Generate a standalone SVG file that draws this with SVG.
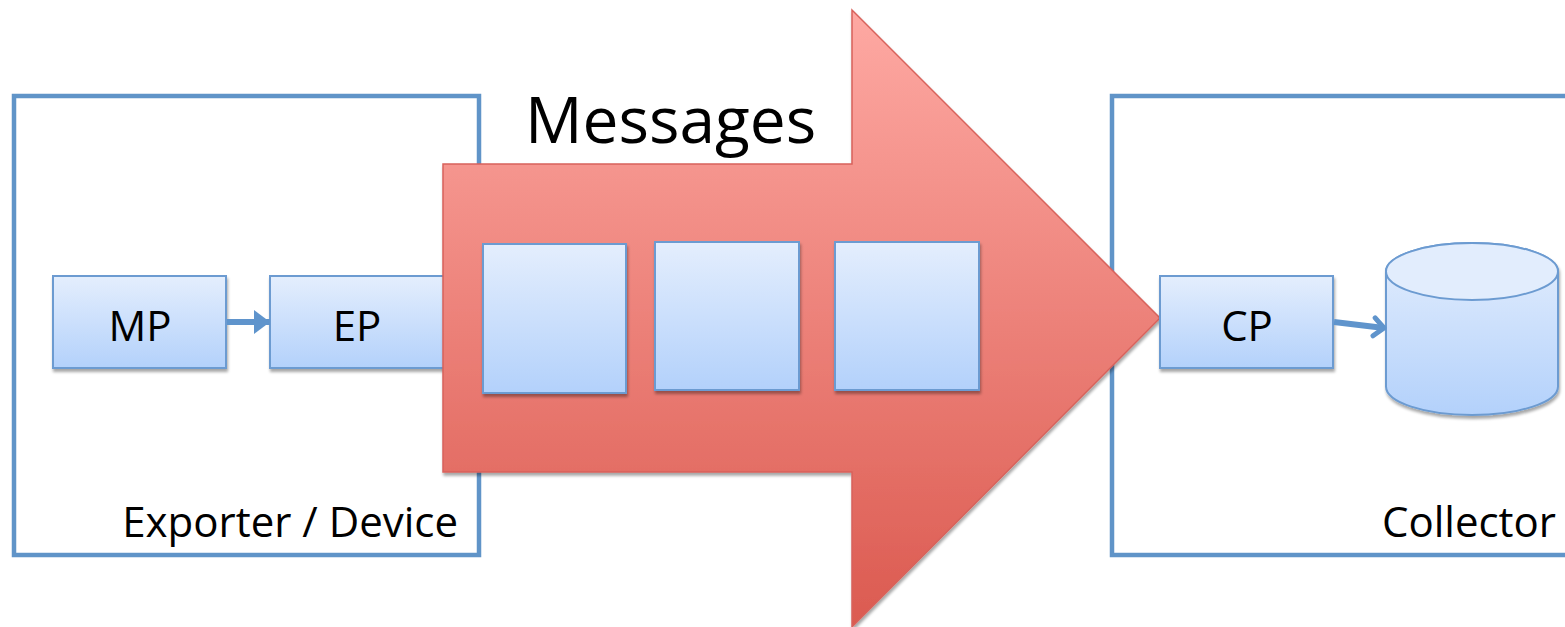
<svg xmlns="http://www.w3.org/2000/svg" width="1565" height="627" viewBox="0 0 1565 627">
<defs>
<linearGradient id="gBlue" x1="0" y1="0" x2="0" y2="1">
<stop offset="0" stop-color="#e4eefd"/>
<stop offset="1" stop-color="#b3d1fb"/>
</linearGradient>
<linearGradient id="gRed" x1="0" y1="10" x2="0" y2="627" gradientUnits="userSpaceOnUse">
<stop offset="0" stop-color="#fea9a3"/>
<stop offset="1" stop-color="#db5a50"/>
</linearGradient>
<filter id="sh" x="-10%" y="-10%" width="130%" height="130%">
<feGaussianBlur in="SourceAlpha" stdDeviation="1.5"/>
<feOffset dx="1" dy="2.5" result="b"/>
<feComponentTransfer><feFuncA type="linear" slope="0.35"/></feComponentTransfer>
<feMerge><feMergeNode/><feMergeNode in="SourceGraphic"/></feMerge>
</filter>
<marker id="tri" markerWidth="16" markerHeight="24" refX="16" refY="12" orient="auto" markerUnits="userSpaceOnUse">
<path d="M0,0 L16,12 L0,24 Z" fill="#5f94cc"/>
</marker>
<marker id="chev" markerWidth="16" markerHeight="24" refX="13" refY="12" orient="auto" markerUnits="userSpaceOnUse">
<path d="M3,3 L13,12 L3,21" fill="none" stroke="#5f94cc" stroke-width="5" stroke-linecap="round" stroke-linejoin="round"/>
</marker>
</defs>
<style>
.frame{fill:#fff;stroke:#6094c8;stroke-width:4.5}
.box{fill:url(#gBlue);stroke:#6c9bd1;stroke-width:2;filter:url(#sh)}
.lbl{font-family:"Open Sans","Liberation Sans",sans-serif;fill:#000}
.conn{stroke:#5f94cc;stroke-width:6;fill:none}
</style>
<rect width="1565" height="627" fill="#fff"/>
<g id="exporter">
<rect class="frame" x="14" y="96" width="465" height="459"/>
<text class="lbl" x="458" y="537" font-size="42" text-anchor="end">Exporter / Device</text>
</g>
<g id="collector">
<rect class="frame" x="1112" y="96" width="470" height="459"/>
<text class="lbl" x="1556" y="537" font-size="42" text-anchor="end">Collector</text>
</g>
<g id="mp">
<rect class="box" x="53" y="276" width="173" height="92"/>
<text class="lbl" x="140" y="341" font-size="42" text-anchor="middle">MP</text>
</g>
<g id="ep">
<rect class="box" x="270" y="276" width="190" height="92"/>
<text class="lbl" x="357" y="341" font-size="42" text-anchor="middle">EP</text>
</g>
<g id="messages">
<path d="M443,164 L852,164 L852,10 L1160,318 L852,627 L852,472 L443,472 Z" fill="url(#gRed)" stroke="#d8625b" stroke-width="1.5" filter="url(#sh)"/>
<text class="lbl" x="525" y="143" font-size="64">Messages</text>
</g>
<g id="msg1"><rect class="box" x="483" y="244" width="143" height="149"/></g>
<g id="msg2"><rect class="box" x="655" y="242" width="144" height="148"/></g>
<g id="msg3"><rect class="box" x="835" y="242" width="144" height="148"/></g>
<g id="cp">
<rect class="box" x="1160" y="276" width="173" height="92"/>
<text class="lbl" x="1247" y="341" font-size="42" text-anchor="middle">CP</text>
</g>
<g id="db" filter="url(#sh)">
<path d="M1386,271.5 L1386,386.5 A86,28.5 0 0 0 1558,386.5 L1558,271.5 A86,28.5 0 0 0 1386,271.5 Z" fill="url(#gBlue)" stroke="#6c9bd1" stroke-width="2"/>
<ellipse cx="1472" cy="271.5" rx="86" ry="28.5" fill="#e2edfd" stroke="#6c9bd1" stroke-width="2"/>
</g>
<g id="connectors">
<line class="conn" x1="227" y1="322" x2="270" y2="322" marker-end="url(#tri)"/>
<line class="conn" x1="1334" y1="322" x2="1384" y2="328" marker-end="url(#chev)"/>
</g>
</svg>
